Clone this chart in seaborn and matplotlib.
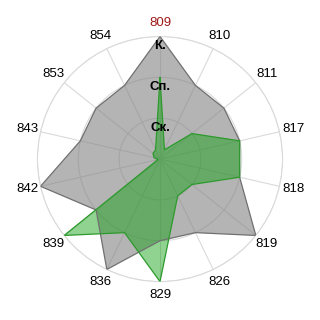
import numpy as np
import matplotlib
matplotlib.use("Agg")
import matplotlib.pyplot as plt
import seaborn as sns

categories = ['809', '810', '811', '817', '818', '819', '826', '829',
              '836', '839', '842', '843', '853', '854']
grey_values = [3, 2, 2, 2, 2, 3, 2, 2, 3, 2, 3, 2, 2, 2]
green_values = [2, 0.25, 1, 2, 2, 1, 1, 3, 2, 3, 0.05, 0.15, 0.22, 0.25]
level_values = [1, 2, 3]
level_labels = ['Ск.', 'Сп.', 'К.']

sns.set_style('white')
plt.rcParams['font.family'] = ['Liberation Sans', 'DejaVu Sans']

fig = plt.figure(figsize=(3.2, 3.2), dpi=100)
ax = fig.add_axes([0.117, 0.12, 0.766, 0.766], projection='polar')
ax.set_theta_zero_location('N')
ax.set_theta_direction(-1)

n = len(categories)
theta = np.arange(n) * 2 * np.pi / n
tc = np.append(theta, 2 * np.pi)

series = [
    (grey_values, '#7f7f7f', '#707070', 0.58),
    (green_values, '#0a9f0a', '#2c9a2c', 0.45),
]
for vals, fc, ec, alpha in series:
    v = np.append(vals, vals[0])
    ax.fill(tc, v, color=fc, alpha=alpha, lw=0, zorder=2)
    sns.lineplot(x=tc, y=v, sort=False, estimator=None, ax=ax,
                 color=ec, lw=0.9, zorder=3)

ax.set_ylim(0, 3)
ax.set_yticks(level_values)
ax.set_yticklabels([])
ax.set_xticks(theta)
ax.set_xticklabels(categories, fontsize=9.5, color='black')
ax.get_xticklabels()[0].set_color('#a01818')
ax.tick_params(axis='x', pad=-0.5)
ax.grid(True, color='#dadada', lw=0.8)
ax.spines['polar'].set_color('#dadada')
ax.spines['polar'].set_linewidth(0.8)
ax.set_xlabel('')
ax.set_ylabel('')

for lvl, lab in zip(level_values, level_labels):
    ax.text(0, lvl - 0.23, lab, ha='center', va='center', fontsize=9.5,
            fontweight='bold', color='black', zorder=5)

fig.savefig('out.png', dpi=100)
